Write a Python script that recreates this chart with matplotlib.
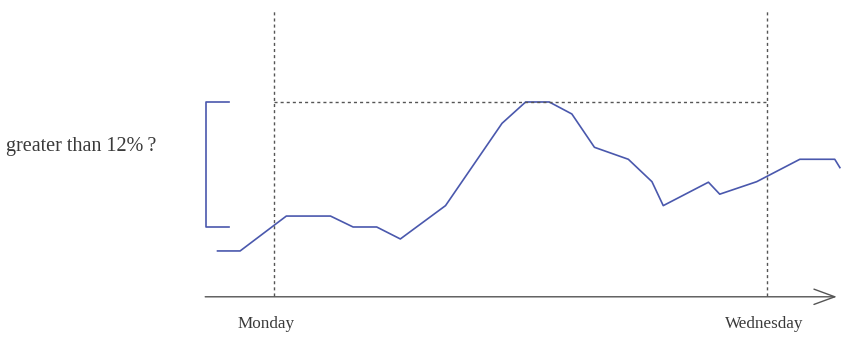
import matplotlib.pyplot as plt

# hours since Monday 00:00, and change in % relative to the bracket base
hours = [-5.5, -3.3, 1.2, 5.5, 7.7, 10.0, 12.3, 16.7, 22.2, 24.5, 26.8, 29.0,
         31.2, 34.5, 36.8, 37.9, 42.3, 43.4, 47.0, 51.2, 54.6, 55.1]
change = [-2.3, -2.3, 1.05, 1.05, 0.0, 0.0, -1.15, 2.05, 9.95, 12.0, 12.0, 10.85,
          7.65, 6.5, 4.35, 2.05, 4.3, 3.15, 4.35, 6.5, 6.5, 5.7]
day_hours = [0, 48]
day_labels = ["Monday", "Wednesday"]
threshold = 12
question = "greater than 12%\u2009?"

blue = "#4a58ad"
grey = "#555555"

fig = plt.figure(figsize=(8.44, 3.47), dpi=100)
ax = fig.add_axes([0, 0, 1, 1])
ax.set_xlim(-26.68, 55.5)
ax.set_ylim(-11.52, 21.79)
ax.axis("off")

ax.plot(hours, change, color=blue, lw=1.2)

# vertical day markers and the threshold line
for h in day_hours:
    ax.plot([h, h], [-6.6, 20.8], color=grey, lw=1, ls=(0, (2.2, 2.2)))
ax.plot([day_hours[0], day_hours[1]], [threshold, threshold], color=grey, lw=1, ls=(0, (2.2, 2.2)))

# bracket
bx0, bx1 = -6.6, -4.35
ax.plot([bx1, bx0, bx0, bx1], [threshold, threshold, 0, 0], color=blue, lw=1.2)

# time axis with open arrow
ax.annotate("", xy=(54.8, -6.7), xytext=(-6.7, -6.7),
            arrowprops=dict(arrowstyle="->,head_length=1.5,head_width=0.55", color=grey, lw=1, shrinkA=0, shrinkB=0))

for h, lab, dx in zip(day_hours, day_labels, [-0.75, -0.3]):
    ax.text(h + dx, -9.3, lab, ha="center", va="center", family="Liberation Serif", fontsize=12.3, color="#3a3a3a")

ax.text(-26.1, 7.7, question, ha="left", va="center", family="Liberation Serif", fontsize=14.5, color="#3a3a3a")

fig.savefig("out.png")
